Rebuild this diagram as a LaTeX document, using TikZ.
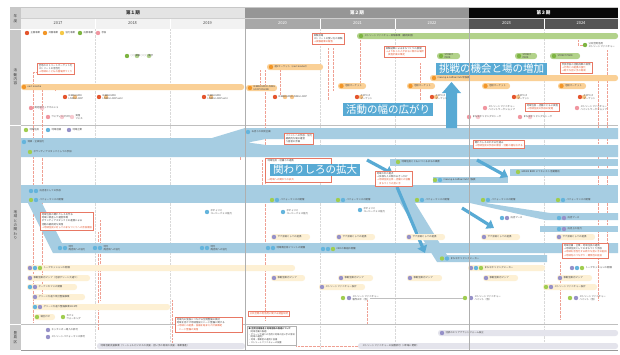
\documentclass[tikz,border=0pt]{standalone}
\usepackage{fontspec}
\setmainfont{Noto Sans CJK JP}
\usetikzlibrary{arrows.meta}
\definecolor{hdrA}{RGB}{228,228,228}
\definecolor{hdrB}{RGB}{150,150,150}
\definecolor{hdrC}{RGB}{8,8,8}
\definecolor{yrA}{RGB}{242,242,242}
\definecolor{yrB}{RGB}{168,168,168}
\definecolor{yrC}{RGB}{85,85,85}
\definecolor{side}{RGB}{200,200,200}
\definecolor{band}{RGB}{166,205,226}
\definecolor{bluebox}{RGB}{88,170,212}
\definecolor{obar}{RGB}{250,208,150}
\definecolor{ocirc}{RGB}{242,150,40}
\definecolor{gbar}{RGB}{178,210,138}
\definecolor{gcirc}{RGB}{125,180,65}
\definecolor{rcirc}{RGB}{228,85,45}
\definecolor{pcirc}{RGB}{240,150,160}
\definecolor{ycirc}{RGB}{245,200,70}
\definecolor{ypill}{RGB}{253,240,212}
\definecolor{gypill}{RGB}{228,228,236}
\definecolor{purp}{RGB}{150,145,200}
\definecolor{lblue}{RGB}{100,180,220}
\definecolor{lgreen}{RGB}{160,205,80}
\definecolor{redline}{RGB}{232,120,100}
\definecolor{grid}{RGB}{175,175,175}
\definecolor{txt}{RGB}{70,70,70}
\tikzset{
  tx/.style={font=\fontsize{2.4}{2.9}\selectfont, inner sep=0.3pt, anchor=west, text=txt, align=left},
  callout/.style={draw=redline, line width=0.5pt, fill=white, font=\fontsize{2.4}{3.1}\selectfont, inner sep=1.5pt, align=left, anchor=north west, text=txt},
  sidecell/.style={fill=side},
  sidetxt/.style={font=\fontsize{3.6}{4.4}\selectfont, text=black!75, align=center},
  bigbox/.style={fill=bluebox, text=white, font=\fontsize{10.5}{11}\selectfont, inner xsep=3pt, inner ysep=1.5pt},
  reddot/.style={redline!70, densely dotted, line width=0.35pt},
  bigarrow/.style={draw=bluebox, line width=3.2pt, -{Triangle[length=7pt,width=10pt]}},
}
\newcommand{\cc}[3]{\fill[#3] (#1,#2) circle (2.2pt);}
\newcommand{\pillbar}[4]{\fill[#4, rounded corners=2.6pt] (#1,{#3-3}) rectangle (#2,{#3+3});}
\begin{document}
\begin{tikzpicture}[x=1pt,y=-1pt]
\useasboundingbox (0,0) rectangle (620,354);
\fill[white] (0,0) rectangle (620,354);
% ---------- side column
\fill[sidecell] (10,8) rectangle (21,29);
\fill[sidecell] (10,29.6) rectangle (21,124.5);
\fill[sidecell] (10,126) rectangle (21,323.5);
\fill[sidecell] (10,325) rectangle (21,350);
\node[sidetxt] (sy) at (15.5,18.5) {年\\度};
\node[sidetxt] (s1) at (15.5,77) {活\\動\\内\\容};
\node[sidetxt] (s2) at (15.5,225) {地\\域\\と\\の\\関\\わ\\り};
\node[sidetxt] (s3) at (15.5,337.5) {豊\\島\\区};
% ---------- header
\fill[hdrA] (21,8) rectangle (245,18);
\fill[hdrB] (245,8) rectangle (469,18);
\fill[hdrC] (469,8) rectangle (618,18);
\node[font=\fontsize{4.6}{5}\selectfont\bfseries, text=black!80] (p1) at (133,13) {第１期};
\node[font=\fontsize{4.6}{5}\selectfont\bfseries, text=white] (p2) at (357,13) {第２期};
\node[font=\fontsize{4.6}{5}\selectfont\bfseries, text=white] (p3) at (543.5,13) {第３期};
\fill[yrA] (21,18) rectangle (245,29);
\fill[yrB] (245,18) rectangle (469,29);
\fill[yrC] (469,18) rectangle (618,29);
\draw[white, line width=0.6pt] (95,18) -- (95,29) (170,18) -- (170,29) (320,18) -- (320,29) (395,18) -- (395,29) (544,18) -- (544,29);
\draw[grid!60, line width=0.3pt] (21,18) -- (618,18);
\foreach \x/\y/\c in {58/2017/black!70,132.5/2018/black!70,207.5/2019/black!70,282.5/2020/white,357.5/2021/white,432/2022/white,506.5/2023/white,581/2024/white}
  \node[font=\fontsize{4}{4.5}\selectfont, text=\c] at (\x,23.5) {\y};
\draw[grid!70, line width=0.4pt] (10,7.5) -- (618,7.5);
% ---------- grid
\foreach \x in {95,170,320,395,544}
  \draw[black!15, densely dotted, line width=0.4pt] (\x,29) -- (\x,350);
\draw[grid!80, line width=1.2pt] (21,125.2) -- (618,125.2);
\draw[grid!80, line width=1.2pt] (21,324.2) -- (618,324.2);
\draw[black!40, line width=0.4pt] (21,350) -- (618,350);
% pink dotted guide lines
\draw[reddot] (33,72) -- (33,322);
\draw[reddot] (42,90) -- (42,300);
\draw[reddot] (55,90) -- (55,84);
\draw[reddot] (98,232) -- (98,330);
\draw[reddot] (33,72) -- (37,72);
\draw[reddot] (260,70) -- (260,90) (265,70) -- (265,320);
\draw[reddot] (280,70) -- (280,95);
\draw[reddot] (328,48) -- (328,100) (333,48) -- (333,90);
\draw[reddot] (360,40) -- (360,87);
\draw[reddot] (420,63) -- (420,100);
\draw[reddot] (578,40) -- (578,45) -- (583,45);
\draw[reddot] (598,77) -- (598,300);
\draw[reddot] (607,50) -- (607,250);
\draw[reddot] (560,262) -- (560,320);
\draw[reddot] (367,300) -- (367,323);
\draw[reddot] (100,220) -- (100,300);
\draw[reddot] (172,300) -- (172,346);
\draw[reddot] (240,150) -- (240,160) (262,160) -- (262,200) -- (272,200);
% ---------- blue bands
\fill[band] (21,138) -- (212,138) -- (245,128) -- (618,128) -- (618,139) -- (266,139) -- (248,142.5) -- (266,145) -- (618,145) -- (618,157) -- (21,157) -- cycle;
\fill[band] (390,159) rectangle (618,166);
\fill[band] (510,169) rectangle (618,176);
\fill[band] (433,177) rectangle (508,183);
\fill[band] (21,185) rectangle (618,203);
\fill[band] (28,203) -- (42,203) -- (62,243) -- (618,243) -- (618,253) -- (53,253) -- cycle;
\fill[band] (470,203) -- (485,203) -- (550,213) -- (618,213) -- (618,220) -- (545,220) -- cycle;
\fill[band] (540,226) rectangle (618,232);
\fill[band] (400,203) -- (415,203) -- (447,255) -- (547,255) -- (547,262) -- (437,262) -- cycle;
% ---------- big arrows
\fill[bluebox] (446,128) -- (446,93) -- (442,93) -- (451.5,82) -- (461,93) -- (457,93) -- (457,128) -- cycle;
\coordinate (a1s) at (367,160); \coordinate (a1e) at (393,174);
\coordinate (a2s) at (397,187); \coordinate (a2e) at (425,253);
\coordinate (a3s) at (462,208); \coordinate (a3e) at (494,228);
\coordinate (a4s) at (477,160); \coordinate (a4e) at (508,177);
\draw[bigarrow] (a1s) -- (a1e);
\draw[bigarrow] (a2s) -- (a2e);
\draw[bigarrow] (a3s) -- (a3e);
\draw[bigarrow] (a4s) -- (a4e);
% ---------- section 1: legend
\cc{27}{33}{rcirc}\node[tx] at (30,33) {主催事業};
\cc{45}{33}{ocirc}\node[tx] at (48,33) {共催事業};
\cc{62}{33}{ycirc}\node[tx] at (65,33) {協力事業};
\cc{80}{33}{gcirc}\node[tx] at (83,33) {出展事業};
\cc{98}{33}{pcirc}\node[tx] at (101,33) {参加};
% green items 2018
\cc{127}{56}{gcirc}\cc{137}{56}{gcirc!60}\cc{149}{56}{gcirc!60}
\node[tx] at (130,56) {○○実験 ○○○ 展示};
% callouts
\node[callout] (c1) at (37,63) {空地のストリートマーケット化\\ストリートの活性化\\\textcolor{rcirc}{→地域のこどもの居場所づくり}};
\node[callout] (c2) at (312,33) {実験会場\\ストリートの使い方の実験\\\textcolor{rcirc}{→実験結果の報告}};
\node[callout] (c3) at (384,46) {実験結果によるまちづくりの展開\\\textcolor{rcirc}{→より多くの人がまちに関わる場所}\\\textcolor{rcirc}{　実施計画の策定}};
\node[callout] (c4) at (560,62) {市民参加の活動成果の実現\\\textcolor{rcirc}{→行政との連携の強化}\\\textcolor{rcirc}{→新たな担い手の育成}};
\node[callout] (c5) at (525,103) {地域住民・店舗とともに実施\\\textcolor{rcirc}{→地域住民の参加の促進}};
% green bar
\pillbar{357}{618}{36}{gbar}
\cc{361}{36}{gcirc}\node[tx] at (364,36) {ストリートファニチャー実験事業（継続実施）};
\pillbar{437}{460}{56}{gbar}\cc{441}{56}{gcirc}\node[tx] at (444,56) {STREET\\PARK};
\pillbar{515}{537}{56}{gbar}\cc{519}{56}{gcirc}\node[tx] at (522,56) {STREET\\PARK};
\pillbar{550}{580}{56}{gbar}\cc{554}{56}{gcirc}\node[tx] at (557,56) {STREET PARK};
\cc{585}{45}{gcirc}\node[tx] at (588,45) {公共空間活用\\ストリートファニチャー};
% orange bars
\pillbar{21}{244}{87}{obar}
\cc{24}{87}{ocirc}\node[tx] at (27,87) {nest marche};
\pillbar{246}{277}{88}{obar}\cc{250}{88}{ocirc}\node[tx] at (253,88) {IKEBUKURO LIVING\\LOOP ONLINE};
\pillbar{267}{323}{67}{obar}\cc{271}{67}{ocirc}\node[tx] at (274,67) {週1マーケット（nest market）};
\pillbar{430}{618}{78}{obar}\cc{434}{78}{ocirc}\node[tx] at (437,78) {Creamp \& Coffee Club 常設展};
\foreach \x in {338,407,482,558}{
  \pillbar{\x}{\x+28}{86}{obar}\cc{\x+3.5}{86}{ocirc}\node[tx] at (\x+6.5,86) {池袋マーケット};}
% red items
\cc{65}{97}{rcirc}\cc{75}{97}{ocirc!55}\node[tx] at (68,97) {IKEBUKURO\\LIVING LOOP};
\cc{99}{97}{rcirc}\cc{106}{97}{ocirc!55}\node[tx] at (102,97) {IKEBUKURO\\LIVING LOOP vol.2};
\cc{204}{97}{rcirc}\cc{211}{97}{ocirc!55}\node[tx] at (207,97) {IKEBUKURO\\LIVING LOOP vol.3};
\cc{275}{97}{rcirc}\cc{285}{97}{ocirc!55}\cc{292}{97}{ocirc!55}\node[tx] at (278,97) {IKEBUKURO LIVING LOOP};
\foreach \x in {357,432,514,580}{
  \cc{\x}{97}{rcirc}\cc{\x+4}{97}{ocirc!55}\node[tx] at (\x+3,97) {たまりば\\マーケット};}
% pink items
\cc{31}{108}{pcirc}\cc{42}{108}{pcirc!50}\node[tx] at (34,108) {南池袋ブックマルシェ};
\cc{48}{117}{pcirc}\cc{62}{117}{pcirc!50}\cc{72}{117}{pcirc!50}\node[tx] at (51,117) {ウェディングほか};
\node[tx] at (75,117) {実施\\フェス};
\cc{485}{108}{pcirc}\node[tx] at (488,108) {ストリートファニチャー\\ペイントワークショップ};
\cc{577}{108}{pcirc}\node[tx] at (580,108) {ストリートファニチャー\\ペイントワークショップ};
\cc{469}{117}{pcirc}\cc{478}{117}{pcirc!50}\node[tx] at (472,117) {まちなかリビングストーク};
\cc{520}{117}{pcirc}\cc{530}{117}{pcirc!50}\node[tx] at (523,117) {まちなかリビングストーク};
% ---------- section 2
\cc{26}{130}{lgreen}\node[tx] at (29,130) {地域住民};
\cc{48}{130}{lblue}\node[tx] at (51,130) {地域店舗};
\cc{69}{130}{purp}\node[tx] at (72,130) {地域企業};
\cc{24}{142}{lblue}\node[tx] at (27,142) {清掃・企画協力};
\cc{30}{152}{lgreen}\node[tx] at (33,152) {ボランティアスタッフとしての参加};
\cc{248}{132}{lblue}\node[tx] at (251,132) {お店との共同企画};
\node[callout] (c6) at (284,133) {イベントへの参加・協力\\継続的な場の運営\\入居者の参画};
% callout behind label 3
\draw[redline, line width=0.5pt, fill=white] (265,158) rectangle (331,182);
\node[tx] (c7a) at (267,160.5) {地域住民・店舗との連携};
\node[tx, text=rcirc] (c7b) at (267,179.5) {→地域への関わりの拡大};
\node[callout] (c8) at (375,171) {地域の中の拠点\\→多様な人の関わるきっかけ\\\textcolor{rcirc}{→地域住民主体・店舗との協働}\\\textcolor{rcirc}{　まちづくりの担い手}};
\node[callout] (c9) at (473,140) {関わりしろのわかる仕組み\\\textcolor{rcirc}{→地域住民の参加の機会・活動の幅を広げる}};
\cc{398}{162}{lgreen}\node[tx] at (401,162) {地域住民とともにつくるまちの風景};
\cc{518}{172}{lgreen}\node[tx] at (521,172) {GREEN BIRD にてキャスト活動開始};
\cc{435}{180}{lgreen}\cc{440}{180}{lblue}\node[tx] at (443,180) {Creamp \& Coffee Club 常設展};
\cc{31}{191}{lblue}\cc{36}{191}{lblue}\node[tx] at (39,191) {出店者としての参加};
\cc{31}{200}{lgreen}\cc{36}{200}{lblue}\node[tx] at (39,200) {パフォーマンスの開催};
\foreach \x in {272,338,417,483,558}{
  \cc{\x}{200}{lgreen}\cc{\x+5}{200}{lblue}\node[tx] at (\x+8,200) {パフォーマンスの開催};}
\cc{207}{212}{lblue}\node[tx] at (210,212) {ポチャリと\\コーヒーフェス協力};
\cc{283}{212}{lblue}\node[tx] at (286,212) {ポチャリと\\コーヒーフェス協力};
\cc{360}{210}{lblue}\node[tx] at (363,210) {ポチャリと\\コーヒーフェス協力};
\node[callout] (c10) at (40,212) {地域住民の関わりしろを作る\\地域に根差した運営体制\\ボランティアスタッフとの連携による\\活動の継続的な実施\\\textcolor{rcirc}{→地域住民に対してのまちづくりへの参加機会}};
\cc{502}{218}{lblue}\cc{507}{218}{purp}\node[tx] at (510,218) {出店ブース};
\cc{559}{218}{lblue}\cc{564}{218}{purp}\node[tx] at (567,218) {出店ブース};
\cc{559}{229}{lblue}\cc{564}{229}{purp}\node[tx] at (567,229) {出店上の協力};
\foreach \x in {273,338,408,483,558}{
  \pillbar{\x-2}{\x+37}{237}{ypill}\cc{\x+1}{237}{purp}\node[tx] at (\x+4,237) {サブ会場としての連携};}
\cc{60}{248}{lblue}\cc{65}{248}{lblue}\node[tx] at (68,248) {地元\\商店街への協力};
\cc{95}{248}{lblue}\cc{100}{248}{lblue}\node[tx] at (103,248) {地元\\商店街への協力};
\cc{202}{248}{lblue}\cc{207}{248}{lblue}\node[tx] at (210,248) {地元\\商店街への協力};
\cc{268}{248}{lblue}\cc{273}{248}{lblue}\node[tx] at (276,248) {地域商店街イベントの開催};
\cc{323}{249}{lblue}\cc{328}{249}{lblue}\cc{333}{249}{lgreen}\node[tx] at (336,249) {CSR の取組の開催};
\node[callout] (c11) at (562,243) {地域店舗・企業・地域住民の連携\\→地域住民としてのまちづくり参加\\\textcolor{rcirc}{→地域を活性化する新たな担い手の創出}\\\textcolor{rcirc}{→地域内のつながり・関係性の創出}};
\cc{442}{258.5}{lgreen}\cc{447}{258.5}{lblue}\node[tx] at (450,258.5) {まちなかリビングメーカー};
% yellow pills lower
\pillbar{27}{295}{268}{ypill}\cc{30}{268}{purp}\cc{35}{268}{lblue}\cc{40}{268}{lgreen}\node[tx] at (43,268) {トークセッションの開催};
\pillbar{468}{545}{268}{ypill}\cc{471}{268}{purp}\cc{476}{268}{lblue}\cc{481}{268}{lgreen}\node[tx] at (484,268) {まちなかリビングメーカー};
\cc{572}{268}{purp}\cc{577}{268}{lblue}\cc{582}{268}{lgreen}\node[tx] at (585,268) {トークセッションの開催};
\pillbar{27}{90}{278}{ypill}\cc{30}{278}{purp}\node[tx] at (33,278) {移動型案内マップ（池袋グリーン大通り）};
\pillbar{271}{305}{278}{ypill}\cc{274}{278}{purp}\node[tx] at (277,278) {移動型案内マップ};
\foreach \x in {338,407,483,557}{
  \pillbar{\x}{\x+35}{278}{ypill}\cc{\x+3}{278}{purp}\node[tx] at (\x+6,278) {移動型案内マップ};}
\pillbar{27}{77}{287}{ypill}\cc{30}{287}{lblue}\cc{35}{287}{purp}\node[tx] at (38,287) {オープンカフェの開催};
\pillbar{319}{365}{287}{ypill}\cc{322}{287}{purp}\node[tx] at (325,287) {ストリートファニチャー設計};
\pillbar{543}{597}{287}{ypill}\cc{546}{287}{lgreen}\cc{551}{287}{purp}\node[tx] at (554,287) {ストリートファニチャー設計};
\pillbar{32}{85}{297}{ypill}\cc{35}{297}{purp}\node[tx] at (38,297) {グリーン大通り改訂整備事業};
\draw[black!25, line width=0.3pt] (370,298) -- (465,298);
\cc{343}{298}{lgreen}\cc{349}{298}{purp}\node[tx] at (352,298) {ストリートファニチャー\\製作ほか（仮）};
\cc{465}{298}{lgreen}\cc{471}{298}{purp}\node[tx] at (474,298) {ストリートファニチャー\\ペイント（仮）};
\cc{570}{298}{lgreen}\cc{576}{298}{purp}\node[tx] at (579,298) {ストリートファニチャー\\ペイント（仮）};
\pillbar{32}{170}{307}{ypill}\cc{35}{307}{lblue}\cc{40}{307}{purp}\node[tx] at (43,307) {グリーン大通り整備事業2019年};
\pillbar{34}{55}{317}{ypill}\cc{37}{317}{lgreen}\node[tx] at (40,317) {場合わせ};
\cc{63}{317}{lgreen}\node[tx] at (66,317) {カフェ\\ウォーキング};
\node[callout] (c12) at (248,311) {\textcolor{rcirc}{公共空間の利活用に関する調査研究}};
\node[callout, text width=64pt] (c13) at (175,317) {地域内の施設につながる空間整備の検討\\地域を活かす地域施設とハード整備に関する\\\textcolor{rcirc}{→地域との連携・協議を踏まえた計画策定}\\\textcolor{rcirc}{　ハード整備の実施}};
% ---------- section 3
\cc{48}{330}{purp}\node[tx] at (51,330) {キッチンカー導入の許可};
\cc{48}{337}{purp}\node[tx] at (51,337) {ストリートパフォーマンス許可};
\pillbar{97}{245}{346}{gypill}\node[tx] at (100,346) {地域活動支援事業（ソーシャルビジネスの支援・担い手の育成の支援・事業推進）};
\node[draw=black!30, line width=0.4pt, fill=white, font=\fontsize{2.2}{2.8}\selectfont, inner sep=1.5pt, align=left, anchor=north west, text=txt] (c14) at (247,326) {\textbf{● 空間活用推進と地域活動の推進について}\\（地域活動の推進）\\・グリーン大通りの活用と地域の担い手の育成\\（地域の連携）\\・地域・事業者の連携と協議\\・ストリートファニチャーの設置};
\pillbar{438}{618}{333}{gypill}\cc{442}{333}{purp}\node[tx] at (445,333) {池袋のエリアプラットフォーム設立};
\pillbar{358}{618}{346}{gypill}\node[tx] at (362,346) {ストリートファニチャーの設置許可（3年毎に更新）};
\draw[reddot] (c14.east |- 0,346) -- (358,346);
% ---------- big labels
\node[bigbox] (lb1) at (491.5,69) {挑戦の機会と場の増加};
\node[bigbox] (lb2) at (388,109.5) {活動の幅の広がり};
\node[bigbox] (lb3) at (315,170) {関わりしろの拡大};
% vertical period lines
\draw[grid, line width=0.7pt] (245,29) -- (245,350);
\draw[grid, line width=0.7pt] (469,29) -- (469,350);
\end{tikzpicture}
\end{document}
